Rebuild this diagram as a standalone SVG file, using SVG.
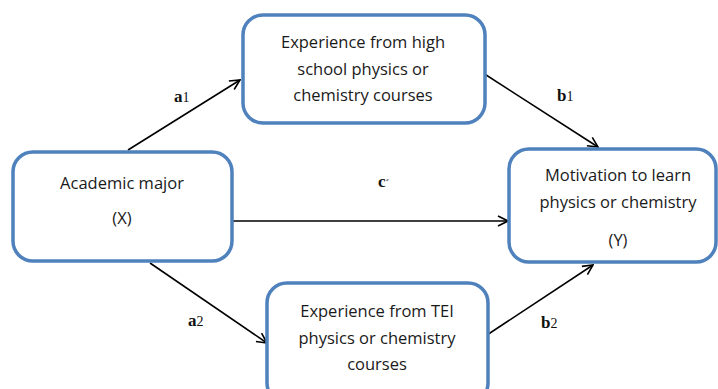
<svg xmlns="http://www.w3.org/2000/svg" width="718" height="389" viewBox="0 0 718 389">
<style>
.box{fill:#fff;stroke:#4F81BD;stroke-width:3.5}
.t{font-family:"Open Sans","Liberation Sans",sans-serif;font-size:16.5px;fill:#1a1a1a;text-anchor:middle}
.lab{font-family:"Liberation Serif",serif;font-size:17px;font-weight:bold;fill:#111}
.sub{font-size:14px;font-weight:normal}
.c{stroke:#000;stroke-width:1.6;fill:none;marker-end:url(#ah)}
</style>
<defs>
<marker id="ah" viewBox="0 0 12 12" refX="11" refY="6" markerWidth="12" markerHeight="12" markerUnits="userSpaceOnUse" orient="auto">
<path d="M1,1 L11,6 L1,11" fill="none" stroke="#000" stroke-width="1.6"/>
</marker>
</defs>
<rect width="718" height="389" fill="#fff"/>
<g id="connectors">
<line class="c" x1="128" y1="150" x2="240" y2="80"/>
<line class="c" x1="483" y1="73" x2="598" y2="147"/>
<line class="c" x1="232" y1="221" x2="508" y2="221"/>
<line class="c" x1="150" y1="263" x2="267" y2="343"/>
<line class="c" x1="487" y1="335" x2="593" y2="265"/>
<text class="lab" x="174" y="102">a<tspan class="sub">1</tspan></text>
<text class="lab" x="557" y="101">b<tspan class="sub">1</tspan></text>
<text class="lab" x="378" y="187">c<tspan font-size="11">´</tspan></text>
<text class="lab" x="188" y="326">a<tspan class="sub">2</tspan></text>
<text class="lab" x="541" y="328">b<tspan class="sub">2</tspan></text>
</g>
<g id="node-x">
<rect class="box" x="13" y="152" width="219" height="109" rx="20"/>
<text class="t" x="122" y="189">Academic major</text>
<text class="t" x="122" y="224">(X)</text>
</g>
<g id="node-m1">
<rect class="box" x="243" y="15" width="242" height="108" rx="20"/>
<text class="t" x="363" y="48">Experience from high</text>
<text class="t" x="363" y="75">school physics or</text>
<text class="t" x="363" y="101">chemistry courses</text>
</g>
<g id="node-y">
<rect class="box" x="509" y="149" width="207" height="113" rx="20"/>
<text class="t" x="618" y="181">Motivation to learn</text>
<text class="t" x="618" y="208">physics or chemistry</text>
<text class="t" x="618" y="246">(Y)</text>
</g>
<g id="node-m2">
<rect class="box" x="267" y="283" width="221" height="120" rx="20"/>
<text class="t" x="377" y="317">Experience from TEI</text>
<text class="t" x="377" y="344">physics or chemistry</text>
<text class="t" x="377" y="370">courses</text>
</g>
</svg>
